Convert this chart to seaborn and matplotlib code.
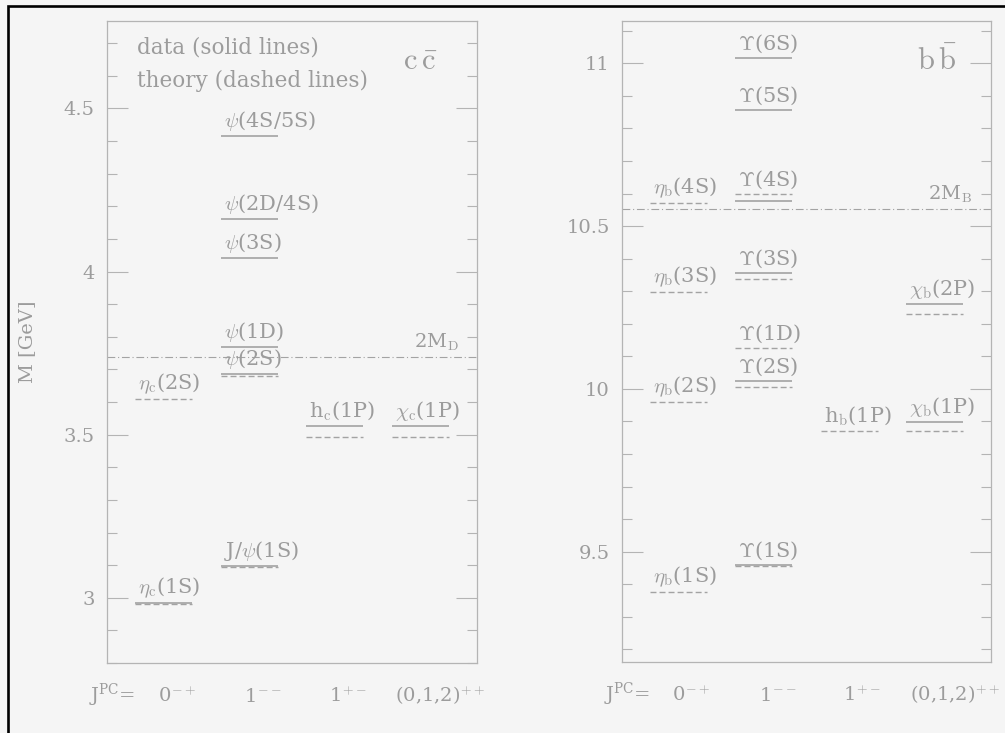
import numpy as np
import pandas as pd
import matplotlib
matplotlib.use("Agg")
import matplotlib.pyplot as plt
import seaborn as sns
from matplotlib.ticker import MultipleLocator, FuncFormatter
from matplotlib.patches import Rectangle

# ---------------- data ----------------
nan = np.nan
jpc_labels = [r"0$^{-+}$", r"1$^{--}$", r"1$^{+-}$", r"(0,1,2)$^{++}$"]
jpc_positions = [1, 2, 3, 4]

cc_states = [r"$\eta_\mathrm{c}$(1S)", r"$\eta_\mathrm{c}$(2S)", r"J/$\psi$(1S)", r"$\psi$(2S)",
             r"$\psi$(1D)", r"$\psi$(3S)", r"$\psi$(2D/4S)", r"$\psi$(4S/5S)",
             r"h$_\mathrm{c}$(1P)", r"$\chi_\mathrm{c}$(1P)"]
cc_jpc = [0, 0, 1, 1, 1, 1, 1, 1, 2, 3]
cc_exp = [2.984, nan, 3.097, 3.686, 3.770, 4.040, 4.160, 4.415, 3.526, 3.526]
cc_theory = [2.982, 3.608, 3.095, 3.680, nan, nan, nan, nan, 3.492, 3.492]
cc_threshold = 3.738
cc_threshold_label = r"2M$_\mathrm{D}$"
cc_title = r"$\mathrm{c}\,\bar{\mathrm{c}}$"

bb_states = [r"$\eta_\mathrm{b}$(1S)", r"$\eta_\mathrm{b}$(2S)", r"$\eta_\mathrm{b}$(3S)", r"$\eta_\mathrm{b}$(4S)",
             r"$\Upsilon$(1S)", r"$\Upsilon$(2S)", r"$\Upsilon$(1D)", r"$\Upsilon$(3S)",
             r"$\Upsilon$(4S)", r"$\Upsilon$(5S)", r"$\Upsilon$(6S)",
             r"h$_\mathrm{b}$(1P)", r"$\chi_\mathrm{b}$(1P)", r"$\chi_\mathrm{b}$(2P)"]
bb_jpc = [0, 0, 0, 0, 1, 1, 1, 1, 1, 1, 1, 2, 3, 3]
bb_exp = [nan, nan, nan, nan, 9.460, 10.023, nan, 10.355, 10.577, 10.856, 11.016, nan, 9.898, 10.260]
bb_theory = [9.377, 9.961, 10.297, 10.571, 9.456, 10.006, 10.127, 10.336, 10.599, nan, nan, 9.871, 9.871, 10.229]
bb_threshold = 10.554
bb_threshold_label = r"2M$_\mathrm{B}$"
bb_title = r"$\mathrm{b}\,\bar{\mathrm{b}}$"

legend_lines = ["data (solid lines)", "theory (dashed lines)"]
y_label = "M [GeV]"

# ---------------- style ----------------
BG = "#f5f5f5"
GRAY = "#a3a3a3"
TXT = "#9c9c9c"

sns.set_theme(style="white", rc={
    "figure.facecolor": BG, "axes.facecolor": BG,
    "axes.edgecolor": "#b4b4b4", "axes.linewidth": 0.9,
    "xtick.color": "#b4b4b4", "ytick.color": "#b4b4b4",
    "text.color": TXT, "axes.labelcolor": TXT,
})
plt.rcParams["font.family"] = ["DejaVu Serif", "DejaVu Sans"]
plt.rcParams["mathtext.fontset"] = "dejavuserif"

W, H = 1005, 733
fig = plt.figure(figsize=(W / 100, H / 100), dpi=100)

ax_c = fig.add_axes([107 / W, 70 / H, 370 / W, 642 / H])
ax_b = fig.add_axes([622 / W, 71 / H, 369 / W, 641 / H])

HALF = 1 / 3
LBL_FS = 15


def draw_panel(ax, states, jpc, exp, theory, thr, thr_label, title, ylim):
    df = pd.DataFrame({"state": states, "col": jpc, "exp": exp, "theory": theory})
    df["x"] = [jpc_positions[c] for c in df["col"]]
    ex = df.dropna(subset=["exp"])
    th = df.dropna(subset=["theory"])
    ax.hlines(th["theory"], th["x"] - HALF, th["x"] + HALF, colors=GRAY,
              linewidth=1.0, linestyles=(0, (4.3, 2.2)), zorder=2)
    ax.hlines(ex["exp"], ex["x"] - HALF, ex["x"] + HALF, colors=GRAY,
              linewidth=1.2, linestyles="solid", zorder=3)
    for _, r in df.iterrows():
        top = np.nanmax([r["exp"], r["theory"]])
        ax.annotate(r["state"], xy=(r["x"] - HALF, top), xytext=(3, 3),
                    textcoords="offset pixels", ha="left", va="bottom",
                    fontsize=LBL_FS, color=TXT, math_fontfamily="cm")
    ax.axhline(thr, color=GRAY, linewidth=0.8, linestyle=(0, (7, 2.5, 1, 2.5)), zorder=1)
    ax.annotate(thr_label, xy=(0.95, thr), xycoords=("axes fraction", "data"),
                xytext=(0, 4), textcoords="offset pixels", ha="right", va="bottom",
                fontsize=LBL_FS - 1, color=TXT, math_fontfamily="cm")
    ax.text(0.80, 0.924, title, transform=ax.transAxes, fontsize=22, color=TXT,
            ha="left", va="baseline", math_fontfamily="cm")

    ax.set_xlim(0.34, 4.66)
    ax.set_ylim(*ylim)
    ax.set_xticks([])
    ax.yaxis.set_major_locator(MultipleLocator(0.5))
    ax.yaxis.set_minor_locator(MultipleLocator(0.1))
    ax.yaxis.set_major_formatter(FuncFormatter(lambda v, p: f"{v:g}"))
    ax.tick_params(axis="y", which="both", direction="in", left=True, right=True,
                   labelleft=True, labelright=False, width=0.8, colors="#b4b4b4",
                   labelcolor=TXT, labelsize=14)
    ax.tick_params(axis="y", which="major", length=15, pad=9)
    ax.tick_params(axis="y", which="minor", length=7.5)
    for s in ax.spines.values():
        s.set_visible(True)

    # J^PC labels along the bottom
    dxs = [-6, -5, -6, -25]
    for pos, lab, dx in zip(jpc_positions, jpc_labels, dxs):
        ax.annotate(lab, xy=(pos, 0), xycoords=("data", "axes fraction"),
                    xytext=(dx, -39), textcoords="offset pixels", ha="left",
                    va="baseline", fontsize=14, color=TXT, math_fontfamily="cm")
    ax.annotate(r"J$^\mathrm{PC}$=", xy=(jpc_positions[0] - HALF, 0),
                xycoords=("data", "axes fraction"), xytext=(0, -39),
                textcoords="offset pixels", ha="right", va="baseline",
                fontsize=14, color=TXT)


draw_panel(ax_c, cc_states, cc_jpc, cc_exp, cc_theory, cc_threshold,
           cc_threshold_label, cc_title, (2.80, 4.768))
draw_panel(ax_b, bb_states, bb_jpc, bb_exp, bb_theory, bb_threshold,
           bb_threshold_label, bb_title, (9.161, 11.13))

ax_c.text(0.081, 0.950, legend_lines[0], transform=ax_c.transAxes, fontsize=15.5,
          color=TXT, ha="left", va="baseline")
ax_c.text(0.081, 0.897, legend_lines[1], transform=ax_c.transAxes, fontsize=15.5,
          color=TXT, ha="left", va="baseline")
ax_c.set_ylabel(y_label, fontsize=14, color=TXT, labelpad=20)

# outer frame (black border on left/top)
fig.patches.append(Rectangle((7.5 / W, -0.1), 1.2, (H - 6) / H + 0.1,
                             transform=fig.transFigure, fill=False,
                             edgecolor="black", linewidth=1.9, clip_on=False))

fig.savefig("out.png", dpi=100, facecolor=BG)
